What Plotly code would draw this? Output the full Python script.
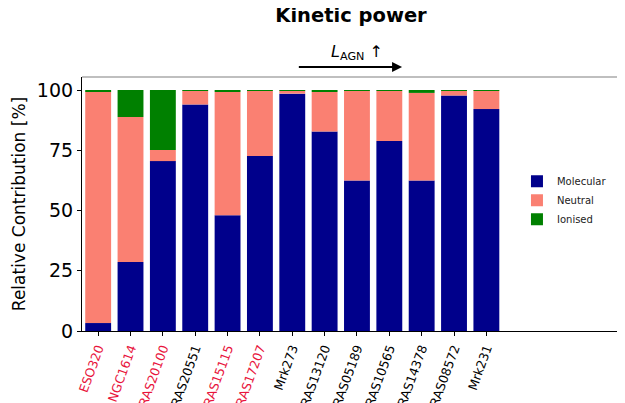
import plotly.graph_objects as go

galaxies = ["ESO320", "NGC1614", "RAS20100", "RAS20551", "RAS15115", "RAS17207",
            "Mrk273", "RAS13120", "RAS05189", "RAS10565", "RAS14378", "RAS08572", "Mrk231"]
highlight = ["ESO320", "NGC1614", "RAS20100", "RAS15115", "RAS17207"]
molecular = [3.3, 28.6, 70.5, 94.0, 48.0, 72.6, 98.5, 82.8, 62.5, 78.8, 62.5, 97.7, 92.1]
neutral = [96.2, 60.2, 4.6, 5.7, 51.2, 27.1, 1.3, 16.4, 37.2, 20.9, 36.3, 2.1, 7.7]
ionised = [0.5, 11.2, 24.9, 0.3, 0.8, 0.3, 0.2, 0.8, 0.3, 0.3, 1.2, 0.2, 0.2]
yticks = [0, 25, 50, 75, 100]

x = list(range(len(galaxies)))
ticktext = [f'<span style="color:#e8143c">{g}</span>' if g in highlight else g for g in galaxies]

# page body has an 8px default margin; size the figure to fill the rest of the window
W, H = 617, 395

fig = go.Figure()
base2 = [m + n for m, n in zip(molecular, neutral)]
fig.add_bar(x=x, y=molecular, name="Molecular", marker_color="#00008b", width=0.8, marker_line_width=0)
fig.add_bar(x=x, y=neutral, base=molecular, name="Neutral", marker_color="#fa8072", width=0.8, marker_line_width=0)
fig.add_bar(x=x, y=ionised, base=base2, name="Ionised", marker_color="#008000", width=0.8, marker_line_width=0)

fig.update_layout(
    width=W, height=H,
    margin=dict(l=74, r=6, t=69, b=72, autoexpand=False),
    barmode="overlay",
    plot_bgcolor="white", paper_bgcolor="white",
    font=dict(family="DejaVu Sans", color="black"),
    showlegend=True,
    legend=dict(x=0.81, y=0.515, xanchor="left", yanchor="middle",
                font=dict(size=10, color="#222"), bgcolor="rgba(0,0,0,0)",
                itemwidth=30, tracegroupgap=0),
    title=dict(text="<b>Kinetic power</b>", x=(343 / W), xanchor="center",
               y=1 - 7.5 / H, yanchor="middle", font=dict(size=19.5, color="black")),
)
fig.update_xaxes(range=[-0.5, 16.1], tickmode="array", tickvals=x, ticktext=ticktext,
                 tickangle=-70, tickfont=dict(size=12.5, color="black"), automargin=False,
                 showline=True, linecolor="black", linewidth=1.2,
                 ticks="outside", ticklen=4, tickcolor="black", showgrid=False, zeroline=False)
fig.update_yaxes(range=[0, 105.4], tickmode="array", tickvals=yticks, automargin=False,
                 tickfont=dict(size=19, color="black"),
                 title=dict(text="Relative Contribution [%]", font=dict(size=17, color="black"), standoff=6),
                 showline=True, linecolor="black", linewidth=1.2,
                 ticks="outside", ticklen=4, tickcolor="black", showgrid=False, zeroline=False)

# grey top and right spines
fig.add_shape(type="line", xref="paper", yref="paper", x0=0, x1=1, y0=1, y1=1,
              line=dict(color="#808080", width=1.2))
fig.add_shape(type="line", xref="paper", yref="paper", x0=1, x1=1, y0=0, y1=1,
              line=dict(color="#808080", width=1.2))

# L_AGN arrow
fig.add_annotation(xref="x domain", yref="y domain", axref="x domain", ayref="y domain",
                   x=0.596, y=1.039, ax=0.401, ay=1.039, text="", showarrow=True,
                   arrowhead=2, arrowsize=1, arrowwidth=2, arrowcolor="black")
fig.add_annotation(xref="paper", yref="paper", x=0.512, y=1.098, showarrow=False,
                   text="<i>L</i><sub>AGN</sub> ↑", font=dict(size=16, color="black"),
                   xanchor="center", yanchor="middle")

fig.write_html("out.html")
